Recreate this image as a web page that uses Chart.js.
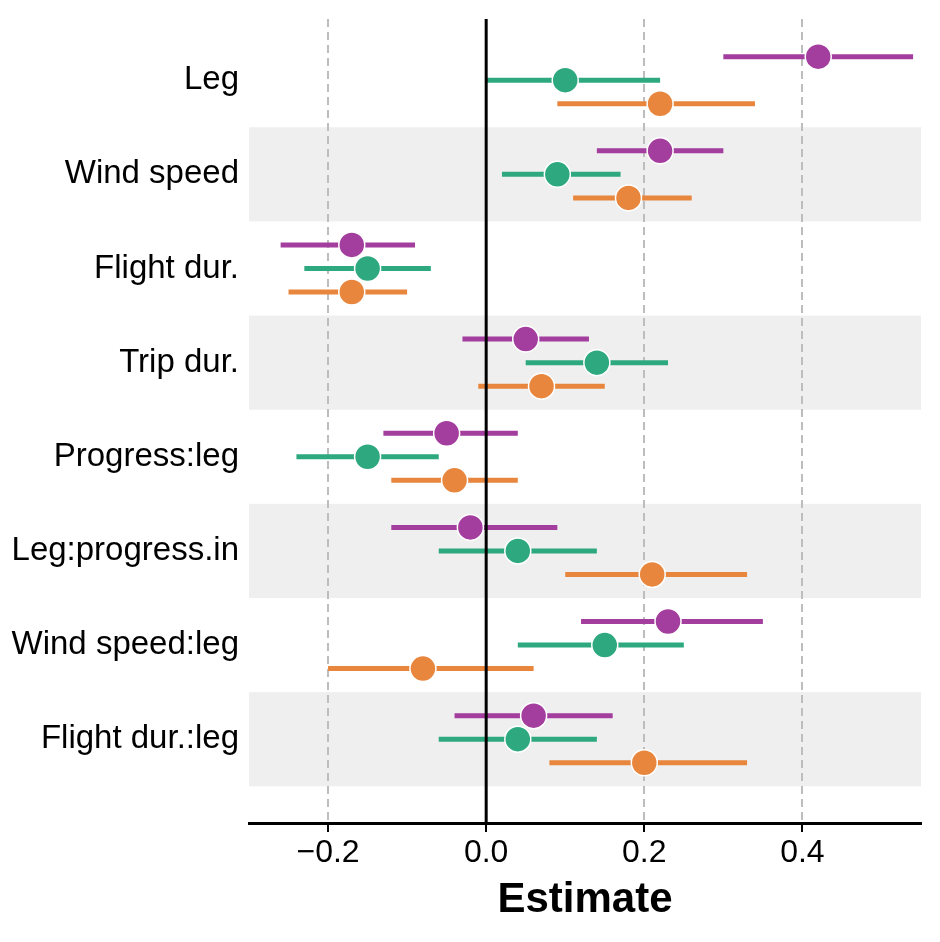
<!DOCTYPE html>
<html><head><meta charset="utf-8">
<script src="https://cdn.jsdelivr.net/npm/chart.js@4.4.1/dist/chart.umd.min.js"></script>
<style>html,body{margin:0;padding:0;background:#fff}#wrap{width:940px;height:942px}</style>
</head><body><div id="wrap"><canvas id="c" width="940" height="942"></canvas></div>
<script>
const categories = ["Leg","Wind speed","Flight dur.","Trip dur.","Progress:leg","Leg:progress.in","Wind speed:leg","Flight dur.:leg"];

const purpleEst = [0.42, 0.22, -0.17, 0.05, -0.05, -0.02, 0.23, 0.06];
const purpleLo  = [0.30, 0.14, -0.26, -0.03, -0.13, -0.12, 0.12, -0.04];
const purpleHi  = [0.54, 0.30, -0.09, 0.13, 0.04, 0.09, 0.35, 0.16];

const greenEst = [0.10, 0.09, -0.15, 0.14, -0.15, 0.04, 0.15, 0.04];
const greenLo  = [0.00, 0.02, -0.23, 0.05, -0.24, -0.06, 0.04, -0.06];
const greenHi  = [0.22, 0.17, -0.07, 0.23, -0.06, 0.14, 0.25, 0.14];

const orangeEst = [0.22, 0.18, -0.17, 0.07, -0.04, 0.21, -0.08, 0.20];
const orangeLo  = [0.09, 0.11, -0.25, -0.01, -0.12, 0.10, -0.20, 0.08];
const orangeHi  = [0.34, 0.26, -0.10, 0.15, 0.04, 0.33, 0.06, 0.33];

const xTicks = [-0.2, 0.0, 0.2, 0.4];
const xTickLabels = ["\u22120.2", "0.0", "0.2", "0.4"];

const PURPLE = '#a33d9e', GREEN = '#2ea97f', ORANGE = '#e8863e';
const FONT = '"Liberation Sans", Arial, Helvetica, sans-serif';
Chart.defaults.font.family = FONT;
Chart.defaults.color = '#000';

function ciData(lo, hi, off) {
  const d = [];
  lo.forEach((l, i) => {
    d.push({x: l, y: i + off}, {x: hi[i], y: i + off}, {x: hi[i], y: null});
  });
  return d;
}
function estData(est, off) {
  return est.map((v, i) => ({x: v, y: i + off}));
}

const seriesDefs = [
  {est: purpleEst, lo: purpleLo, hi: purpleHi, color: PURPLE, off: -0.25},
  {est: greenEst, lo: greenLo, hi: greenHi, color: GREEN, off: 0},
  {est: orangeEst, lo: orangeLo, hi: orangeHi, color: ORANGE, off: 0.25}
];

const datasets = [];
seriesDefs.forEach((s, k) => {
  datasets.push({
    type: 'line', data: ciData(s.lo, s.hi, s.off),
    borderColor: s.color, borderWidth: 5, borderCapStyle: 'butt',
    pointRadius: 0, pointHoverRadius: 0, spanGaps: false, fill: false, order: 10 + k
  });
});
seriesDefs.forEach((s, k) => {
  datasets.push({
    type: 'scatter', data: estData(s.est, s.off),
    backgroundColor: s.color, borderColor: '#fff', pointBorderColor: '#fff',
    pointRadius: 13, pointHoverRadius: 13, pointBorderWidth: 1.5, order: 5 - k
  });
});

const bandPlugin = {
  id: 'bands',
  beforeDraw(chart) {
    const {ctx, chartArea: a, scales: {y}} = chart;
    ctx.save();
    ctx.fillStyle = '#efefef';
    categories.forEach((c, i) => {
      if (i % 2 === 1) {
        const t = y.getPixelForValue(i - 0.5), b = y.getPixelForValue(i + 0.5);
        ctx.fillRect(a.left, t, a.right - a.left, b - t);
      }
    });
    ctx.restore();
  },
  afterDatasetsDraw(chart) {
    const {ctx, chartArea: a, scales: {x}} = chart;
    const px = x.getPixelForValue(0);
    ctx.save();
    ctx.strokeStyle = '#000';
    ctx.lineWidth = 3;
    ctx.beginPath();
    ctx.moveTo(px, a.top);
    ctx.lineTo(px, a.bottom);
    ctx.stroke();
    ctx.restore();
  }
};

new Chart(document.getElementById('c'), {
  type: 'scatter',
  data: {datasets},
  plugins: [bandPlugin],
  options: {
    responsive: false,
    animation: false,
    devicePixelRatio: 1,
    layout: {padding: {left: 0, right: 19, top: 19, bottom: 0}},
    plugins: {legend: {display: false}, tooltip: {enabled: false}},
    scales: {
      x: {
        type: 'linear', min: -0.3, max: 0.55,
        afterBuildTicks: (sc) => { sc.ticks = xTicks.map(v => ({value: v})); },
        afterFit: (sc) => { sc.height = 119; sc.paddingLeft = 0; sc.paddingRight = 0; },
        ticks: {
          font: {size: 32}, color: '#000', padding: 2, maxRotation: 0,
          callback: (v) => xTickLabels[xTicks.indexOf(v)]
        },
        grid: {
          color: (ctx) => (ctx.tick && ctx.tick.value === 0) ? 'rgba(0,0,0,0)' : '#bdbdbd',
          lineWidth: 2, tickColor: '#000', tickLength: 9, tickWidth: 2, drawTicks: true
        },
        border: {display: true, color: '#000', width: 3, dash: [8, 5]},
        title: {display: true, text: 'Estimate', color: '#000', font: {size: 42, weight: 'bold'}, padding: {top: 0, bottom: 16}}
      },
      y: {
        type: 'linear', reverse: true, min: -0.65, max: 7.89,
        afterBuildTicks: (sc) => { sc.ticks = categories.map((c, i) => ({value: i})); },
        afterFit: (sc) => { sc.width = 249; sc.paddingTop = 0; sc.paddingBottom = 0; },
        ticks: {font: {size: 33}, color: '#000', padding: 10, callback: (v) => categories[v]},
        grid: {display: false, drawTicks: false},
        border: {display: false}
      }
    }
  }
});
</script></body></html>
